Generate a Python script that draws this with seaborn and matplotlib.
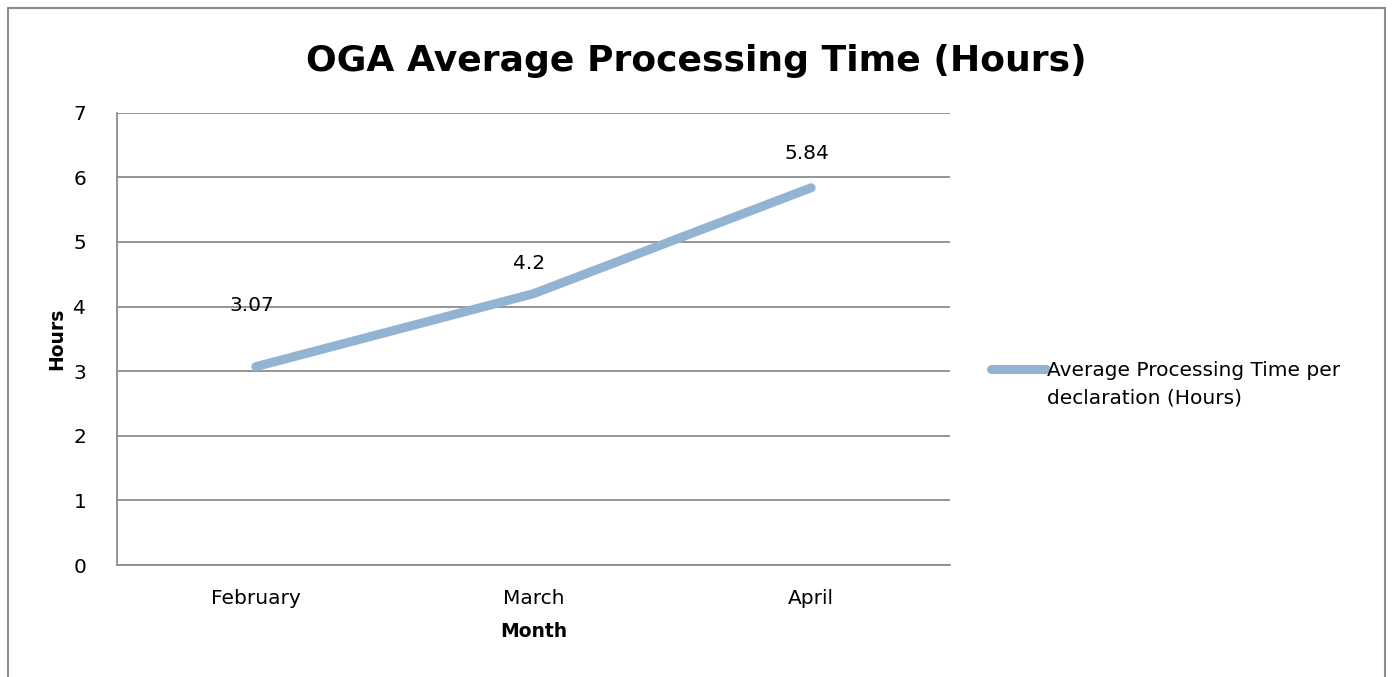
import pandas as pd
import matplotlib.pyplot as plt
import seaborn as sns
from matplotlib.patches import Rectangle
from matplotlib.lines import Line2D

months = ["February", "March", "April"]
hours = [3.07, 4.2, 5.84]
label_texts = ["3.07", "4.2", "5.84"]
series_lines = ["Average Processing Time per", "declaration (Hours)"]

df = pd.DataFrame({"Month": months, "Hours": hours})

sns.set_style("white")
plt.rcParams["font.family"] = ["DejaVu Sans"]
plt.rcParams["text.color"] = "black"
plt.rcParams["axes.labelcolor"] = "black"
plt.rcParams["xtick.color"] = "black"
plt.rcParams["ytick.color"] = "black"

fig = plt.figure(figsize=(13.92, 6.77), dpi=100)
ax = fig.add_axes([0.084, 0.1654, 0.5985, 0.668])

line_color = "#93B3D3"
sns.lineplot(data=df, x="Month", y="Hours", ax=ax, color=line_color,
             linewidth=6.5, solid_capstyle="round", legend=False)

# data labels (offsets in points, as placed in the original)
offsets = [44, 22, 25]
for i, (v, t) in enumerate(zip(hours, label_texts)):
    ax.annotate(t, (i, v), xytext=(-3, offsets[i]), textcoords="offset points",
                ha="center", va="center", fontsize=14.5)

ax.set_xlim(-0.5, 2.5)
ax.set_ylim(0, 7)
ax.set_yticks(range(0, 8))
ax.yaxis.grid(True, color="#8c8c8c", linewidth=1.3)
ax.set_axisbelow(True)
for s in ["top", "right"]:
    ax.spines[s].set_visible(False)
for s in ["left", "bottom"]:
    ax.spines[s].set_color("#8c8c8c")
    ax.spines[s].set_linewidth(1.3)
ax.tick_params(axis="x", labelsize=14.5, length=0, pad=17)
ax.tick_params(axis="y", labelsize=14.5, length=0, pad=22)

ax.set_xlabel("Month", fontsize=13.5, fontweight="bold", labelpad=10)
ax.set_ylabel("Hours", fontsize=13.5, fontweight="bold", labelpad=5)

fig.suptitle("OGA Average Processing Time (Hours)", x=0.5, y=0.935,
             fontsize=26, fontweight="bold")

handles = [Line2D([], [], color=line_color, linewidth=6.5, solid_capstyle="round"),
           Line2D([], [], color="none")]
ax.legend(handles, series_lines, loc="center left", bbox_to_anchor=(1.027, 0.4),
          frameon=False, fontsize=14.5, handlelength=2.75, handletextpad=0.05,
          labelspacing=0.4)

fig.patches.append(Rectangle((8 / 1392, -0.01), 1377 / 1392, 0.998,
                             transform=fig.transFigure, fill=False,
                             edgecolor="#8c8c8c", linewidth=1.5))

fig.savefig("out.png", dpi=100)
